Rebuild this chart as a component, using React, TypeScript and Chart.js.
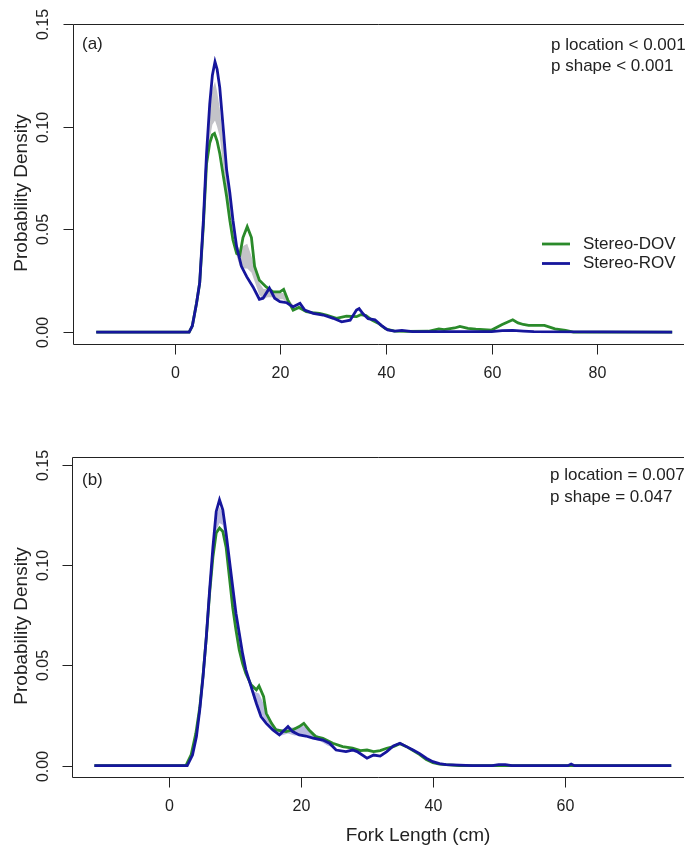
import React, { useEffect, useRef } from "react";
import { Chart, registerables } from "chart.js";

Chart.register(...registerables);

// ---------------- data ----------------
const SERIES_NAMES = ["Stereo-DOV", "Stereo-ROV"];
const Y_TICKS = [0, 0.05, 0.1, 0.15];
const Y_TICK_LABELS = ["0.00", "0.05", "0.10", "0.15"];
const A_X_TICKS = [0, 20, 40, 60, 80];
const B_X_TICKS = [0, 20, 40, 60];
const A_TEXTS = ["p location < 0.001", "p shape < 0.001"];
const B_TEXTS = ["p location = 0.007", "p shape = 0.047"];
const X_TITLE = "Fork Length (cm)";
const Y_TITLE = "Probability Density";

// Panel (a) - Stereo-ROV (blue)
const aRovX = [-14.9, 2.7, 3.3, 4.1, 4.7, 5.4, 6.0, 6.6, 7.1, 7.6, 8.0, 8.5, 9.2, 9.8, 10.4, 11.0, 11.7, 12.6, 13.6, 14.8, 16.0, 16.7, 17.9, 18.9, 19.9, 21.2, 22.4, 23.7, 24.6, 26.2, 28.1, 30.0, 31.6, 33.2, 34.4, 34.9, 35.6, 36.6, 37.9, 39.1, 40.3, 41.6, 43, 45, 60, 62, 64, 66, 68, 94.2];
const aRovY = [0, 0, 0.003, 0.014, 0.024, 0.0545, 0.087, 0.111, 0.125, 0.1316, 0.128, 0.119, 0.098, 0.079, 0.068, 0.0545, 0.0415, 0.032, 0.027, 0.022, 0.016, 0.0165, 0.0214, 0.0165, 0.0148, 0.0143, 0.0123, 0.014, 0.0107, 0.0091, 0.0083, 0.0067, 0.005, 0.0058, 0.0107, 0.0114, 0.009, 0.0065, 0.006, 0.0033, 0.0011, 0.0005, 0.0008, 0.0002, 0.0002, 0.0007, 0.0008, 0.0005, 0.0002, 0];
// Panel (a) - Stereo-DOV (green)
const aDovX = [-14.9, 2.7, 3.3, 4.1, 4.7, 5.4, 6.0, 6.6, 7.1, 7.5, 8.0, 8.5, 9.2, 9.8, 10.4, 11.0, 11.7, 12.3, 12.9, 13.7, 14.5, 15.1, 16.0, 17.3, 18.6, 19.9, 20.6, 21.4, 22.4, 23.5, 24.9, 26.0, 27.4, 28.7, 30.6, 32.5, 34.4, 35.2, 36.2, 37.4, 38.7, 39.9, 41.6, 44, 48, 50, 51, 53, 54, 55.5, 57, 60, 62, 64, 65, 66, 67, 70, 72, 74, 75.5, 94.2];
const aDovY = [0, 0, 0.003, 0.014, 0.024, 0.052, 0.082, 0.092, 0.096, 0.0967, 0.093, 0.087, 0.0756, 0.066, 0.0545, 0.0448, 0.0383, 0.0375, 0.046, 0.0513, 0.046, 0.032, 0.0253, 0.022, 0.0196, 0.0196, 0.0208, 0.0156, 0.0107, 0.012, 0.0099, 0.0095, 0.0091, 0.0083, 0.0067, 0.0078, 0.0075, 0.0085, 0.008, 0.0057, 0.004, 0.0016, 0.0005, 0.0003, 0.0004, 0.0016, 0.0012, 0.002, 0.0028, 0.0018, 0.0014, 0.001, 0.0037, 0.006, 0.0045, 0.0037, 0.0033, 0.0033, 0.0016, 0.0008, 0, 0];
// Panel (a) - reference band
const aBandX = [4.5, 5.4, 6.0, 6.6, 7.1, 7.6, 8.0, 8.5, 9.2, 9.8, 10.4, 11.0, 11.7, 12.3, 13.0, 13.7, 14.5, 15.2, 16.0, 16.8, 17.5, 18.5, 19.5, 20.5, 21.5, 22.5];
const aBandLow = [0.02, 0.05, 0.08, 0.094, 0.101, 0.103, 0.1, 0.095, 0.08, 0.068, 0.058, 0.048, 0.037, 0.032, 0.031, 0.031, 0.029, 0.024, 0.018, 0.016, 0.017, 0.017, 0.016, 0.016, 0.013, 0.011];
const aBandHigh = [0.024, 0.056, 0.088, 0.106, 0.118, 0.122, 0.117, 0.109, 0.092, 0.078, 0.066, 0.053, 0.043, 0.04, 0.042, 0.043, 0.037, 0.03, 0.024, 0.021, 0.021, 0.02, 0.019, 0.019, 0.016, 0.013];

// Panel (b) - Stereo-ROV (blue)
const bRovX = [-11.4, 2.7, 3.5, 4.1, 4.6, 5.1, 5.6, 6.1, 6.6, 7.1, 7.6, 8.1, 8.6, 9.1, 9.6, 10.1, 10.6, 11.1, 11.6, 12.4, 13.2, 13.9, 14.7, 15.7, 16.7, 18.0, 18.7, 19.7, 20.7, 21.8, 23.3, 24.3, 25.3, 26.8, 27.8, 28.5, 30, 31, 32, 33, 34, 35, 36, 37, 38, 39, 40, 41, 42, 44, 46, 49, 50, 51, 52, 60.5, 61, 61.5, 76.2];
const bRovY = [0, 0, 0.0053, 0.0145, 0.0278, 0.0444, 0.0644, 0.0877, 0.109, 0.1268, 0.1326, 0.1276, 0.116, 0.1026, 0.0893, 0.076, 0.066, 0.056, 0.0478, 0.0394, 0.031, 0.0245, 0.0211, 0.0178, 0.0153, 0.0195, 0.017, 0.0153, 0.0148, 0.0137, 0.0128, 0.0112, 0.0078, 0.007, 0.0078, 0.007, 0.0037, 0.0053, 0.0048, 0.007, 0.0098, 0.0112, 0.0095, 0.0078, 0.006, 0.0037, 0.002, 0.001, 0.0005, 0.0003, 0, 0, 0.0005, 0.0005, 0, 0, 0.0008, 0, 0];
// Panel (b) - Stereo-DOV (green)
const bDovX = [-11.4, 2.5, 3.3, 4.0, 4.6, 5.1, 5.6, 6.1, 6.6, 7.1, 7.6, 8.1, 8.6, 9.1, 9.6, 10.1, 10.6, 11.1, 11.6, 12.4, 13.2, 13.6, 14.3, 14.7, 15.5, 16.2, 17.7, 18.7, 19.7, 20.4, 21.2, 22.2, 23.3, 24.8, 26.3, 27.8, 29, 30, 31, 32, 33, 34, 35, 36, 37, 38, 39, 40, 41, 42, 43, 44, 76.2];
const bDovY = [0, 0, 0.0055, 0.016, 0.029, 0.045, 0.064, 0.086, 0.104, 0.116, 0.1185, 0.1168, 0.109, 0.094, 0.079, 0.0677, 0.0577, 0.051, 0.046, 0.0403, 0.0378, 0.0398, 0.0344, 0.0261, 0.0211, 0.0178, 0.017, 0.0178, 0.0195, 0.0211, 0.0178, 0.0145, 0.0137, 0.0112, 0.0095, 0.0087, 0.0075, 0.0078, 0.007, 0.0075, 0.0087, 0.0095, 0.011, 0.0095, 0.0075, 0.0055, 0.003, 0.0015, 0.0008, 0.0005, 0.0003, 0, 0];
// Panel (b) - reference band
const bBandX = [6.6, 7.1, 7.6, 8.1, 8.6, 9.1, 9.6, 10.1, 11, 12, 12.8, 13.6, 14.3, 15, 16, 17, 18, 19, 20, 21, 22, 23, 24, 25];
const bBandLow = [0.104, 0.117, 0.121, 0.12, 0.111, 0.096, 0.082, 0.07, 0.052, 0.042, 0.033, 0.028, 0.024, 0.021, 0.017, 0.015, 0.016, 0.015, 0.015, 0.015, 0.013, 0.012, 0.01, 0.009];
const bBandHigh = [0.108, 0.125, 0.129, 0.126, 0.114, 0.1, 0.086, 0.073, 0.055, 0.044, 0.037, 0.036, 0.031, 0.024, 0.019, 0.018, 0.019, 0.019, 0.02, 0.019, 0.016, 0.014, 0.012, 0.011];

// ---------------- styling ----------------
const FAMILY = '"Liberation Sans", Arial, Helvetica, sans-serif';
const TICK_FONT = `16px ${FAMILY}`;
const TITLE_FONT = `19px ${FAMILY}`;
const NOTE_FONT = `17px ${FAMILY}`;
const TEXT_COLOR = "#222";
const DOV_COLOR = "#2a8a2a";
const ROV_COLOR = "#16169c";
const LINE_W = 2.8;
const CANVAS_W = 720;
const VISIBLE_W = 687;

const zip = (xs: number[], ys: number[]) => xs.map((x, i) => ({ x, y: ys[i] }));

type PanelCfg = {
  height: number;
  padding: { left: number; top: number; right: number; bottom: number };
  xMin: number;
  xMax: number;
  yMin: number;
  yMax: number;
  xTicks: number[];
  rovX: number[];
  rovY: number[];
  dovX: number[];
  dovY: number[];
  bandX: number[];
  bandLow: number[];
  bandHigh: number[];
  bandColor: string;
  tag: string;
  tagY: number;
  texts: string[];
  textX: number;
  textY: number[];
  legend: boolean;
  xTitle: string | null;
};

function makeDecor(cfg: PanelCfg) {
  return {
    id: "decor",
    afterDraw(chart: any) {
      const ctx = chart.ctx as CanvasRenderingContext2D;
      const { left, top, bottom } = chart.chartArea;
      const xs = chart.scales.x;
      const ys = chart.scales.y;
      const E = VISIBLE_W - 3;
      ctx.save();
      ctx.strokeStyle = TEXT_COLOR;
      ctx.fillStyle = TEXT_COLOR;
      ctx.lineWidth = 1;
      const L = Math.round(left) + 0.5;
      const T = Math.round(top) + 0.5;
      const B = Math.round(bottom) + 0.5;
      // box: its right side lies beyond the picture's edge
      ctx.beginPath();
      ctx.moveTo(E, T);
      ctx.lineTo(L, T);
      ctx.lineTo(L, B);
      ctx.lineTo(E, B);
      ctx.stroke();
      // x ticks
      ctx.font = TICK_FONT;
      ctx.textAlign = "center";
      ctx.textBaseline = "middle";
      cfg.xTicks.forEach((v) => {
        const px = Math.round(xs.getPixelForValue(v)) + 0.5;
        ctx.beginPath();
        ctx.moveTo(px, B);
        ctx.lineTo(px, B + 10);
        ctx.stroke();
        ctx.fillText(String(v), px, B + 29);
      });
      // y ticks
      Y_TICKS.forEach((v, i) => {
        const py = Math.round(ys.getPixelForValue(v)) + 0.5;
        ctx.beginPath();
        ctx.moveTo(L, py);
        ctx.lineTo(L - 10, py);
        ctx.stroke();
        ctx.save();
        ctx.translate(43.5, py);
        ctx.rotate(-Math.PI / 2);
        ctx.fillText(Y_TICK_LABELS[i], 0, 0);
        ctx.restore();
      });
      // y title
      ctx.font = TITLE_FONT;
      ctx.save();
      ctx.translate(22, (top + bottom) / 2 + 9);
      ctx.rotate(-Math.PI / 2);
      ctx.fillText(Y_TITLE, 0, 0);
      ctx.restore();
      // x title
      if (cfg.xTitle) {
        ctx.fillText(cfg.xTitle, 418, B + 58);
      }
      // tag and p values
      ctx.font = NOTE_FONT;
      ctx.textAlign = "left";
      ctx.fillText(cfg.tag, 82, cfg.tagY);
      cfg.texts.forEach((t, i) => ctx.fillText(t, cfg.textX, cfg.textY[i]));
      // legend
      if (cfg.legend) {
        const items = [
          { label: chart.data.datasets[1].label, color: chart.data.datasets[1].borderColor },
          { label: chart.data.datasets[0].label, color: chart.data.datasets[0].borderColor },
        ];
        items.forEach((it, i) => {
          const y = 244 + i * 19.5;
          ctx.strokeStyle = it.color;
          ctx.lineWidth = LINE_W;
          ctx.beginPath();
          ctx.moveTo(542, y);
          ctx.lineTo(570, y);
          ctx.stroke();
          ctx.fillStyle = TEXT_COLOR;
          ctx.fillText(it.label, 583, y);
        });
      }
      ctx.restore();
    },
  };
}

function Panel({ cfg, top }: { cfg: PanelCfg; top: number }) {
  const ref = useRef<HTMLCanvasElement | null>(null);
  useEffect(() => {
    if (!ref.current) return;
    const chart = new Chart(ref.current, {
      type: "line",
      data: {
        datasets: [
          {
            label: SERIES_NAMES[1],
            data: zip(cfg.rovX, cfg.rovY),
            borderColor: ROV_COLOR,
            borderWidth: LINE_W,
            pointRadius: 0,
            fill: false,
          },
          {
            label: SERIES_NAMES[0],
            data: zip(cfg.dovX, cfg.dovY),
            borderColor: DOV_COLOR,
            borderWidth: LINE_W,
            pointRadius: 0,
            fill: false,
          },
          {
            label: "band-high",
            data: zip(cfg.bandX, cfg.bandHigh),
            borderColor: "rgba(0,0,0,0)",
            borderWidth: 0,
            pointRadius: 0,
            backgroundColor: cfg.bandColor,
            fill: "+1",
          },
          {
            label: "band-low",
            data: zip(cfg.bandX, cfg.bandLow),
            borderColor: "rgba(0,0,0,0)",
            borderWidth: 0,
            pointRadius: 0,
            fill: false,
          },
        ],
      },
      options: {
        animation: false,
        responsive: false,
        maintainAspectRatio: false,
        layout: { padding: cfg.padding },
        elements: { line: { tension: 0 }, point: { radius: 0 } },
        scales: {
          x: { type: "linear", display: false, min: cfg.xMin, max: cfg.xMax },
          y: { type: "linear", display: false, min: cfg.yMin, max: cfg.yMax },
        },
        plugins: { legend: { display: false }, tooltip: { enabled: false } },
      },
      plugins: [makeDecor(cfg)],
    } as any);
    return () => chart.destroy();
  }, [cfg]);
  return (
    <canvas
      ref={ref}
      width={CANVAS_W}
      height={cfg.height}
      style={{ position: "absolute", left: 0, top, width: CANVAS_W, height: cfg.height }}
    />
  );
}

const CFG_A: PanelCfg = {
  height: 420,
  padding: { left: 73, top: 24, right: 24.6, bottom: 76 },
  xMin: -19.3,
  xMax: 98.6,
  yMin: -0.0058,
  yMax: 0.15,
  xTicks: A_X_TICKS,
  rovX: aRovX,
  rovY: aRovY,
  dovX: aDovX,
  dovY: aDovY,
  bandX: aBandX,
  bandLow: aBandLow,
  bandHigh: aBandHigh,
  bandColor: "#c3c3c8",
  tag: "(a)",
  tagY: 44,
  texts: A_TEXTS,
  textX: 551,
  textY: [45, 66],
  legend: true,
  xTitle: null,
};

const CFG_B: PanelCfg = {
  height: 425,
  padding: { left: 72, top: 37.3, right: 25.7, bottom: 68.3 },
  xMin: -14.8,
  xMax: 79.7,
  yMin: -0.0055,
  yMax: 0.1538,
  xTicks: B_X_TICKS,
  rovX: bRovX,
  rovY: bRovY,
  dovX: bDovX,
  dovY: bDovY,
  bandX: bBandX,
  bandLow: bBandLow,
  bandHigh: bBandHigh,
  bandColor: "#b9b9e0",
  tag: "(b)",
  tagY: 60,
  texts: B_TEXTS,
  textX: 550,
  textY: [55, 77],
  legend: false,
  xTitle: X_TITLE,
};

export default function App() {
  return (
    <div
      style={{
        position: "fixed",
        left: 0,
        top: 0,
        width: VISIBLE_W,
        height: 845,
        overflow: "hidden",
        background: "#fff",
      }}
    >
      <Panel cfg={CFG_A} top={0} />
      <Panel cfg={CFG_B} top={420} />
    </div>
  );
}
